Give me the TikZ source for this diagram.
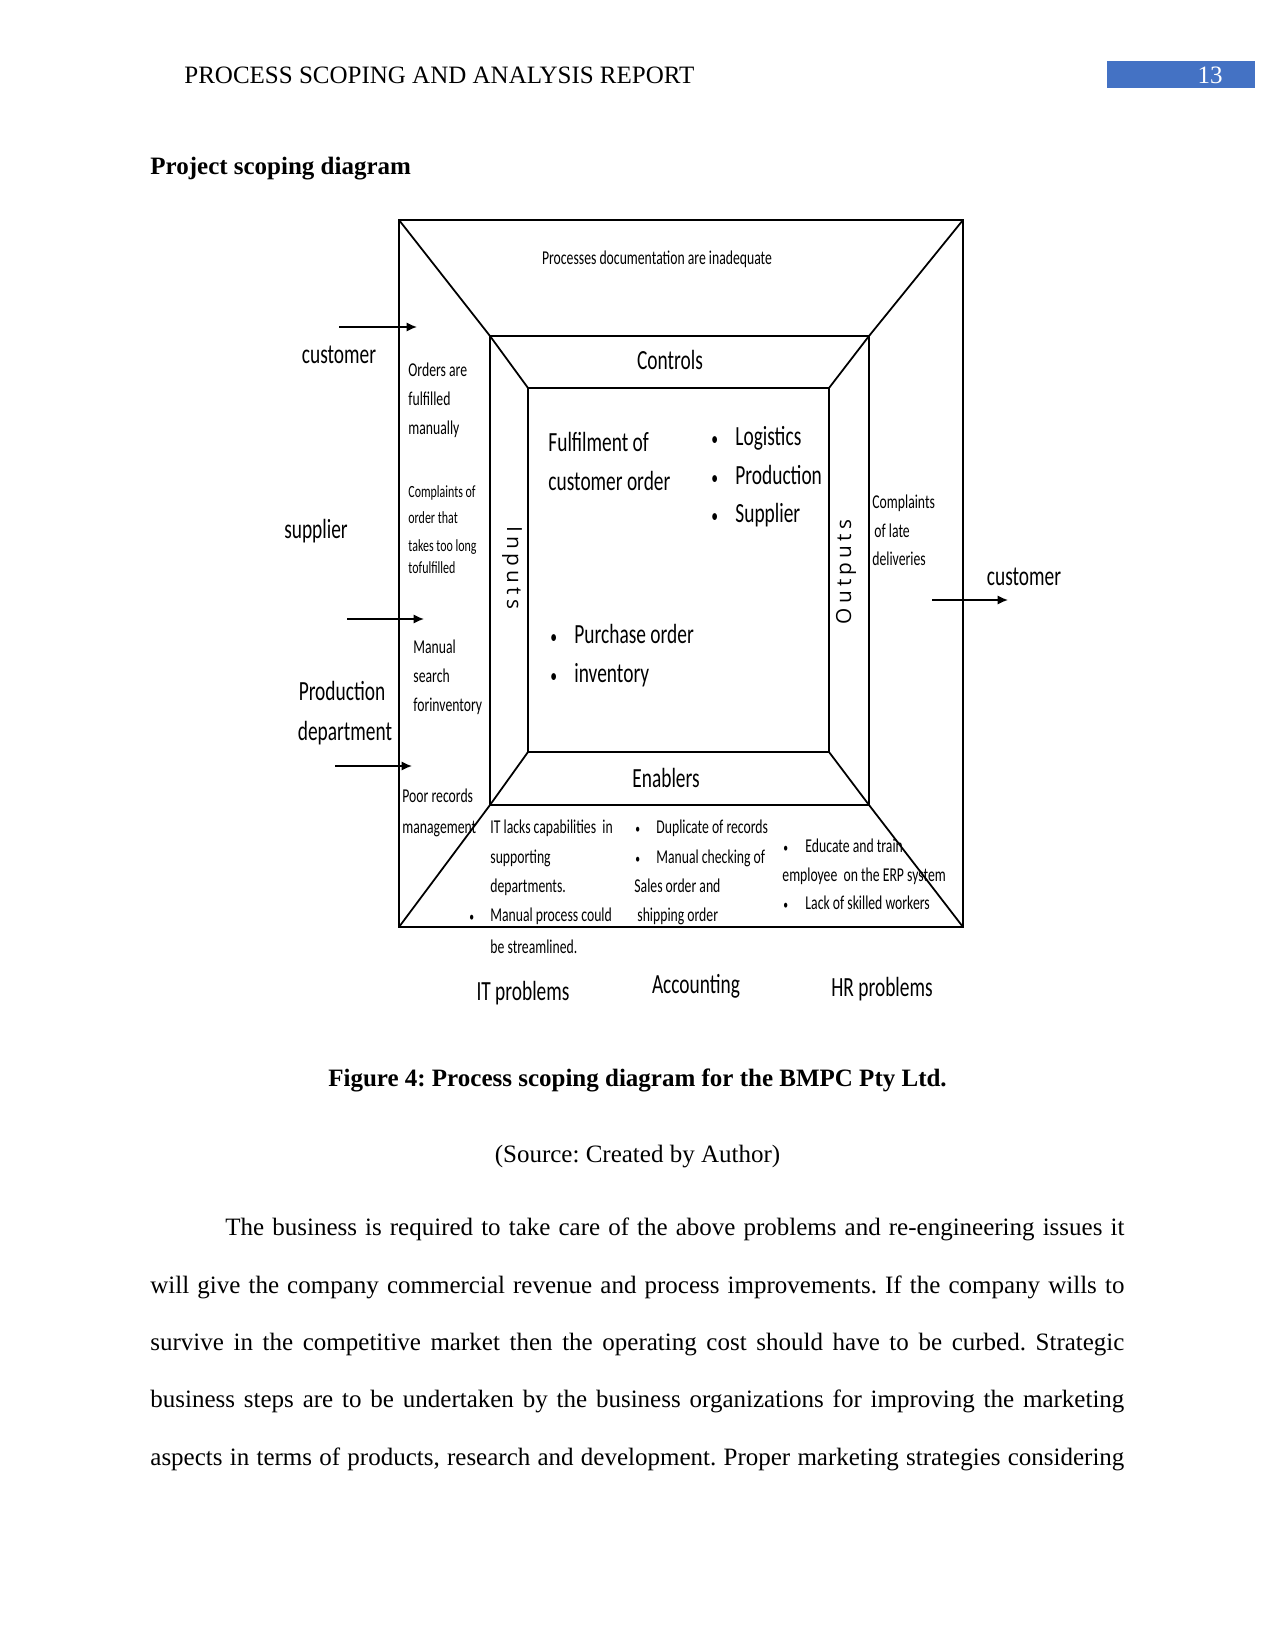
\documentclass[tikz,border=0pt]{standalone}
\usepackage{fontspec}
\setmainfont{Liberation Serif}
\newfontfamily\dfont[FakeStretch=0.7]{Carlito}
\newfontfamily\iofont[LetterSpace=20]{Open Sans}
\usetikzlibrary{arrows.meta}
\definecolor{hdrblue}{HTML}{4472C4}
\newcommand\bulmark{\scalebox{0.7}{•}}
\frenchspacing
\tikzset{
  lbl/.style={inner sep=0pt, text height=0.7em, text depth=0.2em, anchor=west},
  tbig/.style={lbl, font=\dfont\fontsize{13.3}{16}\selectfont, yshift=-1.4pt},
  tmid/.style={lbl, font=\dfont\fontsize{9.4}{11}\selectfont, yshift=-0.4pt},
  tsml/.style={lbl, font=\dfont\fontsize{8.2}{10}\selectfont},
  tio/.style={inner sep=0pt, font=\iofont\fontsize{10}{12}\selectfont},
  frame/.style={line width=0.85pt, black},
  inarrow/.style={line width=0.85pt, -{Latex[length=5pt,width=4.5pt]}},
  serif/.style={inner sep=0pt, anchor=base west, font=\fontsize{12}{14}\selectfont},
  serifc/.style={serif, anchor=base},
}
\begin{document}
\begin{tikzpicture}[x=0.48pt,y=-0.48pt]
\useasboundingbox (0,0) rectangle (1275,1650);
\fill[white] (0,0) rectangle (1275,1650);

% ---------- header ----------
\node[serif] (hdr) at (184,84) {PROCESS SCOPING AND ANALYSIS REPORT};
\fill[hdrblue] (1107,61) rectangle (1255,88);
\node[serifc, text=white] (pg) at (1210,84) {13};
\node[serif, font=\bfseries\fontsize{12}{14}\selectfont] (ttl) at (150,175) {Project scoping diagram};

% ---------- frame corners ----------
\coordinate (O1) at (399,220); \coordinate (O2) at (963,220);
\coordinate (O3) at (963,927); \coordinate (O4) at (399,927);
\coordinate (M1) at (490,336); \coordinate (M2) at (869,336);
\coordinate (M3) at (869,805); \coordinate (M4) at (490,805);
\coordinate (I1) at (528,388); \coordinate (I2) at (829,388);
\coordinate (I3) at (829,752); \coordinate (I4) at (528,752);

\draw[frame] (O1) -- (O2) -- (O3) -- (O4) -- cycle;
\draw[frame] (M1) -- (M2) -- (M3) -- (M4) -- cycle;
\draw[frame] (I1) -- (I2) -- (I3) -- (I4) -- cycle;
\draw[frame] (O1) -- (M1) -- (I1);
\draw[frame] (O2) -- (M2) -- (I2);
\draw[frame] (I4) -- (M4) -- (O4);
\draw[frame] (I3) -- (M3) -- (O3);

% ---------- top ----------
\node[tmid, anchor=center] (doc) at (657,258) {Processes documentation are inadequate};
\node[tbig, anchor=center] (ctl) at (670,361) {Controls};
\node[tbig, anchor=center] (enb) at (666,779) {Enablers};

% ---------- left column ----------
\foreach \t/\y [count=\i] in {Orders are/370, fulfilled/399, manually/428}
  \node[tmid] (ord\i) at (408,\y) {\t};
\foreach \t/\y [count=\i] in {Complaints of/492, order that/518, takes too long/546, tofulfilled/568}
  \node[tsml] (cpl\i) at (408,\y) {\t};
\foreach \t/\y [count=\i] in {Manual/647, search/676, forinventory/705}
  \node[tmid] (man\i) at (413,\y) {\t};
\foreach \t/\y [count=\i] in {Poor records/796, management/827}
  \node[tmid] (poor\i) at (402,\y) {\t};

% ---------- left sources ----------
\node[tbig, anchor=center] (cust) at (339,355) {customer};
\node[tbig, anchor=center] (supp) at (316,530) {supplier};
\node[tbig, anchor=center] (prod1) at (342,692) {Production};
\node[tbig, anchor=center] (prod2) at (345,732) {department};
\coordinate (a1s) at (339,327); \coordinate (a1e) at (417,327);
\coordinate (a2s) at (347,619); \coordinate (a2e) at (424,619);
\coordinate (a3s) at (335,766); \coordinate (a3e) at (412,766);
\draw[inarrow] (a1s) -- (a1e);
\draw[inarrow] (a2s) -- (a2e);
\draw[inarrow] (a3s) -- (a3e);

% ---------- inputs / outputs ----------
\node[tio, rotate=-90] (inp) at (512,568) {Inputs};
\node[tio, rotate=90] (outp) at (846,572) {Outputs};

% ---------- inner box ----------
\node[tbig] (ful1) at (548,443) {Fulfilment of};
\node[tbig] (ful2) at (548,482) {customer order};
\foreach \t/\y [count=\i] in {Logistics/437, Production/476, Supplier/514}{
  \node[tbig] (lgb\i) at (711,\y) {\bulmark};
  \node[tbig] (lg\i) at (735,\y) {\t};
}
\foreach \t/\y [count=\i] in {Purchase order/635, inventory/674}{
  \node[tbig] (pob\i) at (550,\y) {\bulmark};
  \node[tbig] (po\i) at (574,\y) {\t};
}

% ---------- right ----------
\node[tmid] (lt1) at (872,502) {Complaints};
\node[tmid] (lt2) at (874,531) {of late};
\node[tmid] (lt3) at (872,559) {deliveries};
\node[tbig, anchor=center] (cust2) at (1024,577) {customer};
\coordinate (a4s) at (932,600); \coordinate (a4e) at (1008,600);
\draw[inarrow] (a4s) -- (a4e);

% ---------- bottom ----------
\node[tmid] (it1) at (490,827) {IT lacks capabilities\ \ in};
\node[tmid] (it2) at (490,857) {supporting};
\node[tmid] (it3) at (490,886) {departments.};
\node[tmid] (it4b) at (469,915) {\bulmark};
\node[tmid] (it4) at (490,915) {Manual process could};
\node[tmid] (it5) at (490,947) {be streamlined.};

\node[tmid] (ac1b) at (635,827) {\bulmark};
\node[tmid] (ac1) at (656,827) {Duplicate of records};
\node[tmid] (ac2b) at (635,857) {\bulmark};
\node[tmid] (ac2) at (656,857) {Manual checking of};
\node[tmid] (ac3) at (634,886) {Sales order and};
\node[tmid] (ac4) at (637,915) {shipping order};

\node[tmid] (hr1b) at (783,846) {\bulmark};
\node[tmid] (hr1) at (805,846) {Educate and train};
\node[tmid] (hr2) at (782,875) {employee\ \ on the ERP system};
\node[tmid] (hr3b) at (783,903) {\bulmark};
\node[tmid] (hr3) at (805,903) {Lack of skilled workers};

\node[tbig, anchor=center] (itp) at (523,992) {IT problems};
\node[tbig, anchor=center] (acp) at (696,985) {Accounting};
\node[tbig, anchor=center] (hrp) at (882,988) {HR problems};

% ---------- caption and text ----------
\node[serifc, font=\bfseries\fontsize{12}{14}\selectfont] (cap) at (637.5,1086) {Figure 4: Process scoping diagram for the BMPC Pty Ltd.};
\node[serifc] (src) at (637.5,1162) {(Source: Created by Author)};

\node[serif] (b1) at (225,1235) {\makebox[431.5pt][s]{The business is required to take care of the above problems and re-engineering issues it}};
\node[serif] (b2) at (150,1293) {\makebox[467.5pt][s]{will give the company commercial revenue and process improvements. If the company wills to}};
\node[serif] (b3) at (150,1350) {\makebox[467.5pt][s]{survive in the competitive market then the operating cost should have to be curbed. Strategic}};
\node[serif] (b4) at (150,1407) {\makebox[467.5pt][s]{business steps are to be undertaken by the business organizations for improving the marketing}};
\node[serif] (b5) at (150,1465) {\makebox[467.5pt][s]{aspects in terms of products, research and development. Proper marketing strategies considering}};
\end{tikzpicture}
\end{document}
